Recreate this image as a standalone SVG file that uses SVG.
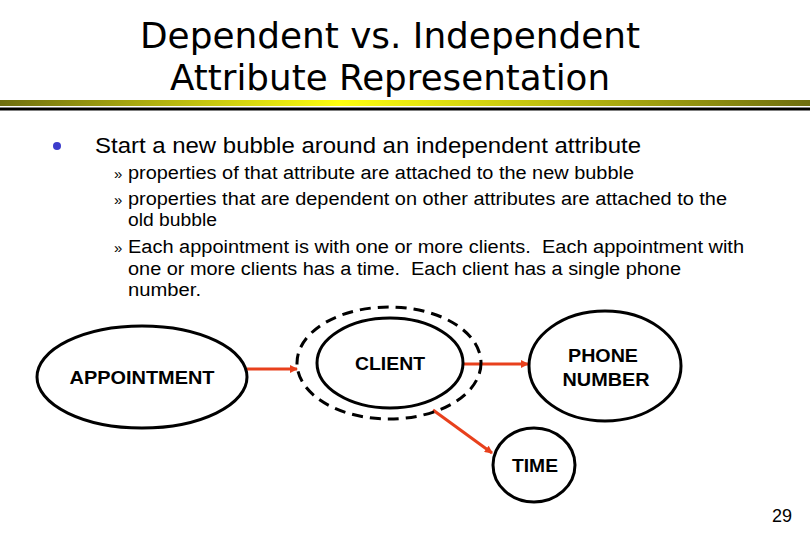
<svg xmlns="http://www.w3.org/2000/svg" width="810" height="540" viewBox="0 0 810 540">
<style>
.title{font-family:"DejaVu Sans",sans-serif;font-size:36px;fill:#000}
.body{font-family:"Liberation Sans",Arial,sans-serif;fill:#000}
.lbl{font-family:"Liberation Sans",Arial,sans-serif;font-weight:bold;font-size:18px;fill:#000;text-anchor:middle}
.node{fill:#fff;stroke:#000;stroke-width:3}
.conn{stroke:#e8401c;stroke-width:3;fill:none}
</style>
<defs>
<linearGradient id="bar" x1="0" x2="1" y1="0" y2="0">
<stop offset="0" stop-color="#6e6e10"/>
<stop offset="0.42" stop-color="#ffff10"/>
<stop offset="1" stop-color="#6e6e10"/>
</linearGradient>
<marker id="ah" markerWidth="8" markerHeight="8" refX="7" refY="4" orient="auto" markerUnits="userSpaceOnUse" viewBox="0 0 8 8">
<path d="M0,0 L8,4 L0,8 Z" fill="#e8401c"/>
</marker>
</defs>
<rect width="810" height="540" fill="#fff"/>
<g id="title">
<text class="title" x="390" y="48" text-anchor="middle" textLength="500" lengthAdjust="spacingAndGlyphs">Dependent vs. Independent</text>
<text class="title" x="390" y="90" text-anchor="middle" textLength="440" lengthAdjust="spacingAndGlyphs">Attribute Representation</text>
<rect x="0" y="100" width="810" height="6" fill="url(#bar)"/>
<rect x="0" y="107.5" width="810" height="3" fill="#000"/>
</g>
<g id="bullets">
<circle cx="57" cy="146" r="4" fill="#3c3ccc"/>
<text class="body" x="95" y="153" font-size="22" textLength="546" lengthAdjust="spacingAndGlyphs">Start a new bubble around an independent attribute</text>
<g font-size="18">
<text class="body" x="114" y="179" font-size="15">»</text>
<text class="body" x="128" y="179" font-size="18" textLength="506" lengthAdjust="spacingAndGlyphs">properties of that attribute are attached to the new bubble</text>
<text class="body" x="114" y="205" font-size="15">»</text>
<text class="body" x="128" y="205" font-size="18" textLength="599" lengthAdjust="spacingAndGlyphs">properties that are dependent on other attributes are attached to the</text>
<text class="body" x="128" y="226" font-size="18" textLength="89" lengthAdjust="spacingAndGlyphs">old bubble</text>
<text class="body" x="114" y="253" font-size="15">»</text>
<text class="body" x="128" y="253" font-size="18" textLength="616" lengthAdjust="spacingAndGlyphs" xml:space="preserve">Each appointment is with one or more clients.  Each appointment with</text>
<text class="body" x="128" y="275" font-size="18" textLength="553" lengthAdjust="spacingAndGlyphs" xml:space="preserve">one or more clients has a time.  Each client has a single phone</text>
<text class="body" x="128" y="296" font-size="18" textLength="73" lengthAdjust="spacingAndGlyphs">number.</text>
</g>
</g>
<g id="connectors">
<line class="conn" x1="247" y1="369" x2="297" y2="369" marker-end="url(#ah)"/>
<line class="conn" x1="463" y1="364" x2="528" y2="364" marker-end="url(#ah)"/>
<line class="conn" x1="433" y1="410" x2="492" y2="453" marker-end="url(#ah)"/>
</g>
<g id="appointment">
<ellipse class="node" cx="142" cy="377" rx="105" ry="51"/>
<text class="lbl" x="142" y="384" textLength="145" lengthAdjust="spacingAndGlyphs">APPOINTMENT</text>
</g>
<g id="client-group">
<ellipse cx="389" cy="363" rx="92" ry="56" fill="none" stroke="#000" stroke-width="3" stroke-dasharray="11,7"/>
</g>
<g id="client">
<ellipse class="node" cx="390" cy="363" rx="73" ry="45"/>
<text class="lbl" x="390" y="370" textLength="70" lengthAdjust="spacingAndGlyphs">CLIENT</text>
</g>
<g id="phone">
<ellipse class="node" cx="605" cy="366" rx="76" ry="55"/>
<text class="lbl" x="603" y="362" textLength="70" lengthAdjust="spacingAndGlyphs">PHONE</text>
<text class="lbl" x="606" y="386" textLength="87" lengthAdjust="spacingAndGlyphs">NUMBER</text>
</g>
<g id="time">
<ellipse class="node" cx="534" cy="465" rx="41" ry="37"/>
<text class="lbl" x="535" y="472" textLength="46" lengthAdjust="spacingAndGlyphs">TIME</text>
</g>
<text class="body" x="782" y="522" font-size="18" text-anchor="middle">29</text>
</svg>
